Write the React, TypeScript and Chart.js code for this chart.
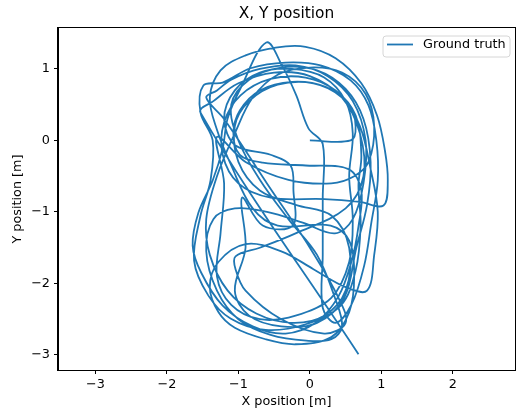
import React, { useEffect, useRef } from "react";
import { Chart, registerables } from "chart.js";

Chart.register(...registerables);

const chartTitle = "X, Y position";
const xLabel = "X position [m]";
const yLabel = "Y position [m]";
const seriesName = "Ground truth";
const xTicks = [-3, -2, -1, 0, 1, 2];
const yTicks = [-3, -2, -1, 0, 1];
const xRange = [-3.524, 2.87];
const yRange = [-3.21, 1.573];

const xPos = [
  0.0, 0.57, 0.64, 0.55, 0.22, -0.25, -0.7, -0.98, -1.07, -0.98, -0.66, -0.06, 0.54, 0.72, 0.68, 0.58, 0.4, 0.08, -0.34, -0.8,
  -1.22, -1.52, -1.64, -1.56, -1.36, -1.22, -1.15, -0.97, -0.61, -0.38, -0.19, -0.02, 0.18, 0.18, 0.18, 0.18, 0.36, 0.58, 0.76, 0.86,
  0.95, 0.93, 0.82, 0.57, 0.15, -0.34, -0.83, -1.22, -1.49, -1.53, -1.36, -1.39, -1.53, -1.62, -1.42, -1.11, -0.62, -0.06, 0.43, 0.64,
  0.71, 0.68, 0.72, 0.64, 0.36, -0.06, -0.55, -0.97, -1.2, -1.22, -1.0, -0.55, 0.2, 0.7, 1.03, 1.09, 1.05, 0.94, 0.72, 0.36,
  -0.06, -0.48, -0.9, -1.25, -1.4, -1.3, -1.1, -0.8, -0.45, 0.29, 0.55, 0.62, 0.55, 0.3, -0.2, -0.62, -1.05, -1.28, -1.4, -1.28,
  -0.9, -0.4, 0.05, 0.5, 0.8, 0.9, 0.95, 0.85, 0.7, 0.45, 0.05, -0.45, -0.85, -1.05, -1.0, -0.7, -0.2, 0.3, 0.55, 0.5,
  0.2, -0.25, -0.75, -1.15, -1.4, -1.45, -1.3, -1.05, -0.8, -0.45, 0.0, 0.45, 0.78, 0.9, 0.82, 0.62, 0.3, -0.3, -0.9, -1.3,
  -1.2, -1.25, -1.3, -1.1, -0.7, -0.2, 0.3, 0.55, 0.6, 0.55, 0.6, 0.5, 0.2, -0.25, -0.7, -1.05, -1.2,
  -1.04, -0.55, -0.27, -0.23, -0.24, -0.66, -0.95, -0.9, -1.05, -0.85, -0.4, 0.1, 0.48, 0.65, 0.8, 0.85, 0.75, 0.5, 0.1, -0.4,
  -0.85, -1.1, -1.0, -0.7, -0.3, 0.1, 0.35, 0.45, 0.3, -0.05, -0.55, -1.0, -1.3, -1.45, -1.35, -1.05, -0.6, -0.1, 0.35, 0.6,
  0.75, 0.78, 0.6, 0.25, -0.2, -0.7, -1.1, -1.3, -1.45,
  -1.2, -0.6, 0.0, 0.4, 0.5, 0.2, -0.4, -0.9, -1.04, -1.04, -0.7, -0.2, 0.5, 0.75, 0.7, 0.45, 0.0, -0.5, -1.0, -1.35,
  -1.53, 0.68,
];

const yPos = [
  0.0, 0.0, 0.2, 0.5, 0.75, 0.82, 0.7, 0.42, 0.1, -0.2, -0.31, -0.35, -0.4, -0.7, -1.2, -1.7, -2.18, -2.55, -2.7, -2.6,
  -2.31, -1.85, -1.47, -1.01, -0.56, -0.11, 0.31, 0.73, 1.37, 1.03, 0.63, 0.17, -0.05, -0.8, -1.6, -2.34, -2.55, -2.3, -1.75, -1.15,
  -0.56, 0.0, 0.49, 0.84, 1.05, 1.09, 1.01, 0.81, 0.77, 0.39, 0.0, -0.56, -1.05, -1.68, -2.17, -2.49, -2.65, -2.57, -2.31, -1.82,
  -1.19, -0.63, -0.2, 0.35, 0.7, 0.88, 0.86, 0.63, 0.25, -0.2, -0.6, -0.8, -0.82, -0.86, -0.91, -0.56, -0.14, 0.35, 0.8, 1.15,
  1.31, 1.3, 1.19, 0.98, 0.6, 0.15, -0.35, -0.95, -1.19, -1.19, -1.4, -1.9, -2.4, -2.75, -2.85, -2.78, -2.62, -2.4, -2.05, -1.7,
  -1.45, -1.55, -1.8, -2.05, -2.1, -1.6, -1.0, -0.4, 0.2, 0.6, 0.8, 0.78, 0.55, 0.2, -0.3, -0.7, -0.9, -1.05, -1.5, -2.1,
  -2.45, -2.55, -2.42, -2.1, -1.6, -1.1, -0.5, 0.1, 0.6, 0.92, 1.02, 0.95, 0.65, 0.2, -0.3, -0.5, -0.6, -0.55, -0.3, 0.05,
  -0.6, -1.3, -1.9, -2.3, -2.5, -2.45, -2.2, -1.7, -1.1, -0.5, 0.1, 0.55, 0.88, 1.0, 0.95, 0.7, 0.3,
  -0.07, -0.2, -0.35, -0.7, -1.19, -1.19, -0.8, -1.5, -2.1, -2.45, -2.6, -2.55, -2.2, -1.5, -0.9, -0.3, 0.3, 0.72, 0.98, 1.02,
  0.85, 0.5, 0.0, -0.55, -1.1, -1.6, -2.2, -2.6, -2.78, -2.8, -2.72, -2.5, -2.1, -1.55, -1.1, -0.95, -1.0, -1.15, -1.3, -1.1,
  -0.6, 0.0, 0.55, 0.9, 1.05, 1.0, 0.85, 0.7, 0.6,
  0.3, -0.6, -1.5, -2.2, -2.55, -2.7, -2.5, -2.1, -1.8, -1.62, -1.5, -1.3, -0.95, -0.5, 0.1, 0.6, 0.9, 0.95, 0.8, 0.55,
  0.39, -2.99,
];

const FONT = "'DejaVu Sans', sans-serif";
const LINE_COLOR = "#1f77b4";

const fmt = (v: number) => (v < 0 ? "\u2212" + Math.abs(v) : String(v));

const decorPlugin = {
  id: "decor",
  afterDraw(chart: any) {
    const { ctx, chartArea } = chart;
    const { left, right, top, bottom } = chartArea;
    ctx.save();
    ctx.strokeStyle = "#000";
    ctx.lineWidth = 1;
    ctx.strokeRect(Math.round(left) - 0.5, Math.round(top) - 0.5, Math.round(right - left) + 1, Math.round(bottom - top) + 1);

    ctx.fillStyle = "#000";
    ctx.textAlign = "center";
    ctx.textBaseline = "middle";
    ctx.font = `15.4px ${FONT}`;
    ctx.fillText(chartTitle, (left + right) / 2, 14);

    ctx.font = `12.8px ${FONT}`;
    ctx.fillText(xLabel, (left + right) / 2, 402);

    ctx.save();
    ctx.translate(18, (top + bottom) / 2);
    ctx.rotate(-Math.PI / 2);
    ctx.fillText(yLabel, 0, 0);
    ctx.restore();

    // legend
    const bx = 383, by = 36, bw = 127, bh = 21, r = 3;
    ctx.beginPath();
    ctx.moveTo(bx + r, by);
    ctx.lineTo(bx + bw - r, by);
    ctx.quadraticCurveTo(bx + bw, by, bx + bw, by + r);
    ctx.lineTo(bx + bw, by + bh - r);
    ctx.quadraticCurveTo(bx + bw, by + bh, bx + bw - r, by + bh);
    ctx.lineTo(bx + r, by + bh);
    ctx.quadraticCurveTo(bx, by + bh, bx, by + bh - r);
    ctx.lineTo(bx, by + r);
    ctx.quadraticCurveTo(bx, by, bx + r, by);
    ctx.closePath();
    ctx.fillStyle = "rgba(255,255,255,0.8)";
    ctx.fill();
    ctx.strokeStyle = "#d6d6d6";
    ctx.stroke();

    ctx.strokeStyle = LINE_COLOR;
    ctx.lineWidth = 1.8;
    ctx.beginPath();
    ctx.moveTo(387, 44.5);
    ctx.lineTo(413, 44.5);
    ctx.stroke();

    ctx.fillStyle = "#000";
    ctx.textAlign = "left";
    ctx.font = `12.8px ${FONT}`;
    ctx.fillText(seriesName, 423, 45);
    ctx.restore();
  },
};

export default function App() {
  const ref = useRef<HTMLCanvasElement | null>(null);
  useEffect(() => {
    if (!ref.current) return;
    const points = xPos.map((x, i) => ({ x, y: yPos[i] }));
    const chart = new Chart(ref.current, {
      type: "scatter",
      data: {
        datasets: [
          {
            label: seriesName,
            data: points,
            showLine: true,
            borderColor: LINE_COLOR,
            backgroundColor: LINE_COLOR,
            borderWidth: 1.8,
            pointRadius: 0,
            pointHoverRadius: 0,
            tension: 0.35,
            fill: false,
          },
        ],
      },
      options: {
        responsive: false,
        animation: false,
        devicePixelRatio: 1,
        layout: { padding: { top: 28, right: 1, left: 0, bottom: 0 } },
        plugins: {
          legend: { display: false },
          title: { display: false },
          tooltip: { enabled: false },
        },
        scales: {
          x: {
            type: "linear",
            min: xRange[0],
            max: xRange[1],
            afterBuildTicks: (s: any) => {
              s.ticks = xTicks.map((v) => ({ value: v }));
            },
            afterFit: (s: any) => {
              s.height = 46;
            },
            ticks: {
              callback: (v: any) => fmt(Number(v)),
              color: "#000",
              font: { family: FONT, size: 12.8 },
              padding: 3,
              maxRotation: 0,
              autoSkip: false,
            },
            grid: { display: true, drawOnChartArea: false, drawTicks: true, tickLength: 4, color: "#000", tickColor: "#000" },
            border: { display: true, color: "#000", width: 1 },
          },
          y: {
            type: "linear",
            min: yRange[0],
            max: yRange[1],
            afterBuildTicks: (s: any) => {
              s.ticks = yTicks.map((v) => ({ value: v }));
            },
            afterFit: (s: any) => {
              s.width = 58;
            },
            ticks: {
              callback: (v: any) => fmt(Number(v)),
              color: "#000",
              font: { family: FONT, size: 12.8 },
              padding: 4,
              autoSkip: false,
            },
            grid: { display: true, drawOnChartArea: false, drawTicks: true, tickLength: 4, color: "#000", tickColor: "#000" },
            border: { display: true, color: "#000", width: 1 },
          },
        },
      },
      plugins: [decorPlugin],
    });
    return () => chart.destroy();
  }, []);
  return (
    <div style={{ position: "absolute", left: 0, top: 0, width: 516, height: 416, background: "#fff" }}>
      <canvas ref={ref} width={516} height={416} />
    </div>
  );
}
